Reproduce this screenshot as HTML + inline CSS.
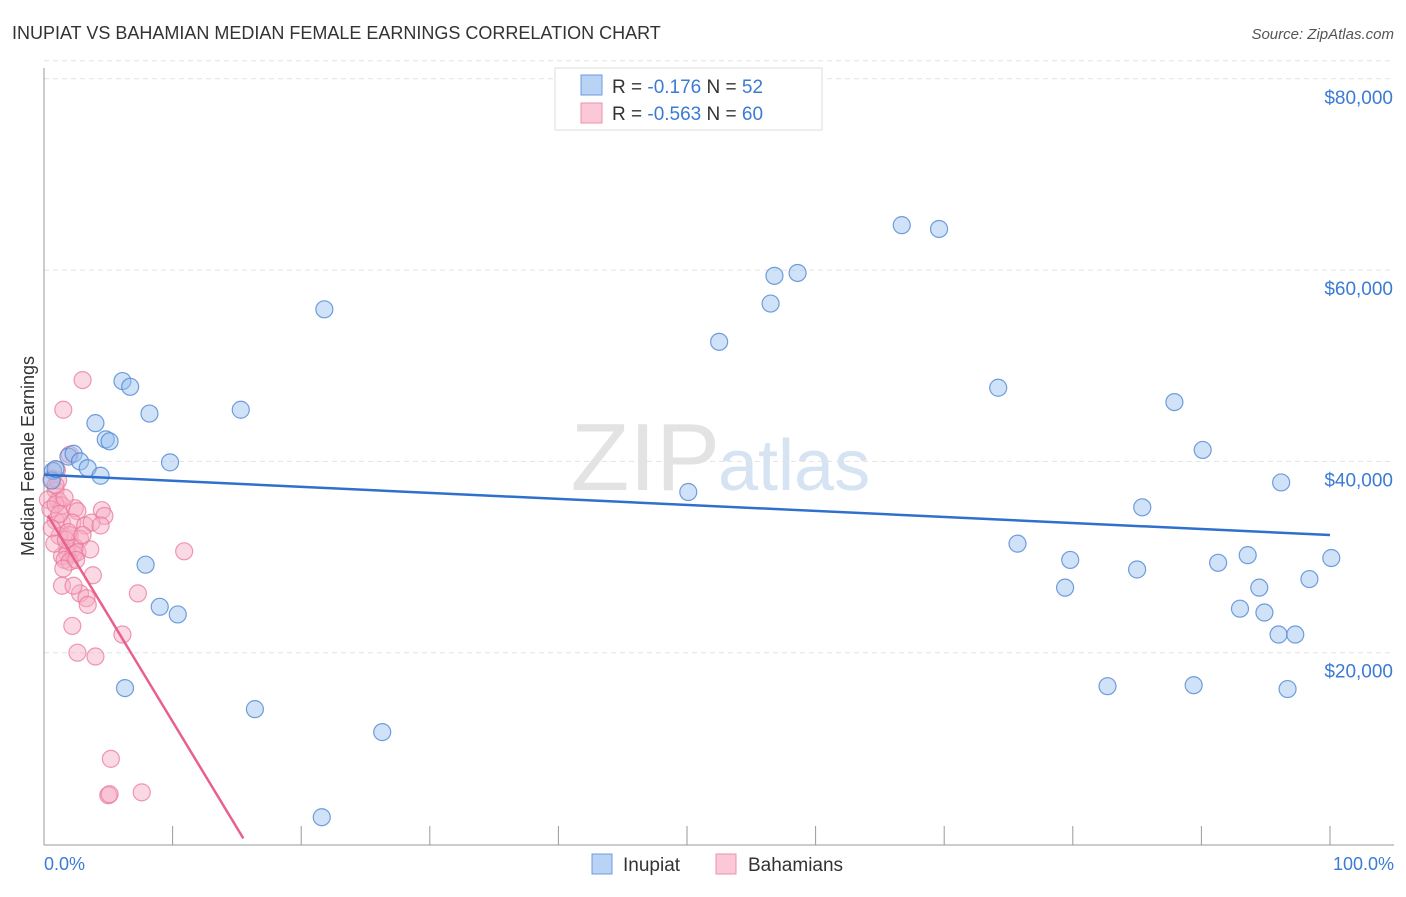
<!DOCTYPE html>
<html><head><meta charset="utf-8"><style>
body{margin:0;background:#fff;font-family:"Liberation Sans",sans-serif;}
svg text{font-family:"Liberation Sans",sans-serif;}
</style></head><body>
<svg id="chart" width="1406" height="892" xmlns="http://www.w3.org/2000/svg">
<text x="12" y="39" font-size="18" fill="#333">INUPIAT VS BAHAMIAN MEDIAN FEMALE EARNINGS CORRELATION CHART</text>
<text x="1394" y="39" font-size="15" fill="#555" text-anchor="end" font-style="italic">Source: ZipAtlas.com</text>
<text x="720" y="490" font-size="96" fill="#e3e3e3" text-anchor="end" font-family="Liberation Serif">ZIP</text>
<text x="718" y="490" font-size="72" fill="#d6e3f3">atlas</text>
<g id="grid"></g>
<line x1="44" y1="68" x2="44" y2="845" stroke="#999"/>
<line x1="44" y1="845" x2="1394" y2="845" stroke="#999"/>
<text transform="translate(34,456) rotate(-90)" font-size="18" fill="#333" text-anchor="middle">Median Female Earnings</text>
<text x="44" y="870" font-size="18" fill="#3a7bd5">0.0%</text>
<text x="1394" y="870" font-size="18" fill="#3a7bd5" text-anchor="end">100.0%</text>
<g id="pts"></g>
<g id="lines"></g>
<g>
<rect x="555" y="68" width="267" height="62" fill="#fff" stroke="#ddd"/>
<rect x="581" y="75" width="21" height="20" fill="#b8d3f4" stroke="#6a9be0"/>
<rect x="581" y="103" width="21" height="20" fill="#fbc8d8" stroke="#ee90ad"/>
<text x="612" y="93" font-size="19" fill="#333">R = <tspan fill="#3a7bd5"> -0.176</tspan>   N = <tspan fill="#3a7bd5"> 52</tspan></text>
<text x="612" y="120" font-size="19" fill="#333">R = <tspan fill="#3a7bd5">-0.563</tspan>   N = <tspan fill="#3a7bd5">60</tspan></text>
</g>
<g>
<rect x="592" y="854" width="20" height="20" fill="#b8d3f4" stroke="#6a9be0"/>
<text x="623" y="871" font-size="19" fill="#333">Inupiat</text>
<rect x="716" y="854" width="20" height="20" fill="#fbc8d8" stroke="#ee90ad"/>
<text x="748" y="871" font-size="19" fill="#333">Bahamians</text>
</g>
</svg>
<script>
const yTicks=[20000,40000,60000,80000];
const yTickLabels=["$20,000","$40,000","$60,000","$80,000"];
const xTicks=[0,10,20,30,40,50,60,70,80,90,100];
const inupiatX=[0.7,0.6,0.9,1.9,2.3,2.8,3.4,4.0,4.4,4.8,5.1,6.1,6.7,8.2,9.8,7.9,9.0,10.4,6.3,15.3,16.4,21.8,26.3,21.6,50.1,52.5,56.5,56.8,58.6,66.7,69.6,74.2,75.7,79.4,79.8,82.7,85.0,85.4,87.9,89.4,90.1,91.3,93.0,93.6,94.5,94.9,96.0,96.2,96.7,97.3,98.4,100.1];
const inupiatY=[39000,38000,39200,40500,40800,40000,39300,44000,38500,42300,42100,48400,47800,45000,39900,29200,24800,24000,16300,45400,14100,55900,11700,2800,36800,52500,56500,59400,59700,64700,64300,47700,31400,26800,29700,16500,28700,35200,46200,16600,41200,29400,24600,30200,26800,24200,21900,37800,16200,21900,27700,29900];
const bahamX=[3.0,1.5,2.0,1.0,0.6,0.9,1.1,1.4,2.4,2.6,4.5,4.7,0.9,1.4,2.2,3.2,3.7,1.2,2.0,2.8,1.8,2.4,1.8,1.4,2.3,2.6,1.6,2.0,3.8,1.5,2.8,1.4,2.3,3.3,3.4,10.9,7.3,6.1,2.2,2.6,4.0,5.2,5.0,5.1,7.6,0.3,0.5,0.9,1.2,0.6,0.8,1.1,1.6,0.9,1.7,3.6,4.4,1.9,3.0,2.5];
const bahamY=[48500,45400,40700,39100,38200,37000,35900,35400,35100,34800,34900,34300,33800,33600,33600,33300,33600,32200,32300,31900,31000,31000,30400,30100,30300,30500,29700,29500,28100,28800,26200,27000,27000,25700,25000,30600,26200,21900,22800,20000,19600,8900,5100,5200,5400,36000,35000,35500,34500,33000,31400,38000,36200,37500,31800,30800,33300,32600,32300,29700];
const inupiatLine=[38600,-63];   // intercept, slope per %
const bahamLine=[35000,-2220];
const X=v=>44+v*12.86, Y=v=>844-v*0.009565;
const ns="http://www.w3.org/2000/svg";
const grid=document.getElementById('grid'),pts=document.getElementById('pts'),lines=document.getElementById('lines');
function mk(tag,attrs,parent){const e=document.createElementNS(ns,tag);for(const k in attrs)e.setAttribute(k,attrs[k]);parent.appendChild(e);return e;}
yTicks.forEach((t,i)=>{
 const l=mk('line',{x1:44,x2:1394,y1:Y(t),y2:Y(t),stroke:'#e2e2e2','stroke-dasharray':'5,4'},grid);
 
 
 const tx=mk('text',{x:1393,y:Y(t)+25,'font-size':19,fill:'#3a7bd5','text-anchor':'end'},grid);
 tx.textContent=yTickLabels[i];
 
 
});
const topL=mk('line',{x1:44,x2:1394,y1:Y(80000)-18,y2:Y(80000)-18,stroke:'#e2e2e2','stroke-dasharray':'5,4'},grid);


xTicks.forEach(t=>{
 const l=mk('line',{x1:X(t),x2:X(t),y1:826,y2:845,stroke:'#999'},grid);
 
 
});
function dots(xs,ys,fill,stroke,name){xs.forEach((x,i)=>{
 const c=mk('circle',{cx:X(x),cy:Y(ys[i]),r:8.5,fill:fill,stroke:stroke,'stroke-width':1.2},pts);
 
 
});}
dots(bahamX,bahamY,'rgba(247,170,195,0.45)','rgba(232,120,155,0.75)','bahamians-point');
dots(inupiatX,inupiatY,'rgba(150,190,240,0.45)','rgba(80,135,210,0.8)','inupiat-point');
const l1=mk('line',{x1:X(0),y1:Y(inupiatLine[0]),x2:X(100),y2:Y(inupiatLine[0]+inupiatLine[1]*100),stroke:'#2f6fce','stroke-width':2.5},lines);


const xe=15.5;
const l2=mk('line',{x1:X(0.3),y1:Y(bahamLine[0]+bahamLine[1]*0.3),x2:X(xe),y2:Y(bahamLine[0]+bahamLine[1]*xe),stroke:'#e8608c','stroke-width':2.5},lines);


</script>
</body></html>
